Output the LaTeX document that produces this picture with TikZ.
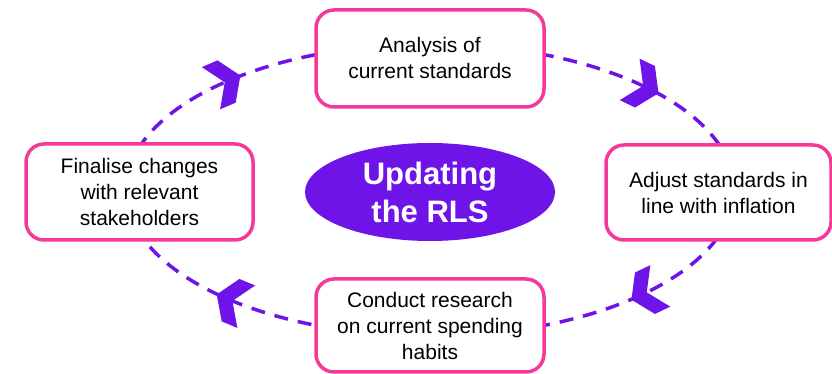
\documentclass[tikz,border=0pt]{standalone}
\usepackage{fontspec}
\setmainfont{Liberation Sans}
\usepackage{xcolor}
\usepackage{tikz}
\usetikzlibrary{shapes.geometric}

\definecolor{rlspink}{HTML}{F7389B}
\definecolor{rlspurple}{HTML}{6F14E8}

\tikzset{
	stagebox/.style={draw=rlspink, line width=3.5pt, fill=white, rounded corners=18pt,
		align=center, inner sep=0pt, font=\fontsize{21}{26}\selectfont},
	cycleline/.style={draw=rlspurple, line width=3.5pt, dash pattern=on 14pt off 10pt}
}

\begin{document}
\begin{tikzpicture}[x=1pt,y=1pt]
	\useasboundingbox (0,0) rectangle (832,374);
	% dashed cycle and its chevrons
	\draw[cycleline] (430,184) ellipse [x radius=304, y radius=146];
	\foreach \a in {132,45,-45,-131}
		\fill[rlspurple, shift={({430+304*cos(\a)},{184+146*sin(\a)})},
			rotate={atan2(-146*cos(\a),304*sin(\a))}]
			(15,0) -- (0,23) -- (-17,23) -- (-2,0) -- (-17,-23) -- (0,-23) -- cycle;
	% stages
	\node[stagebox, minimum width=228pt, minimum height=97pt] (analysis) at (430,315.5)
		{Analysis of\\current standards};
	\node[stagebox, minimum width=225pt, minimum height=95pt] (adjust) at (718.5,181.5)
		{Adjust standards in\\line with inflation};
	\node[stagebox, minimum width=228pt, minimum height=93pt] (research) at (430,48.5)
		{Conduct research\\on current spending\\habits};
	\node[stagebox, minimum width=227pt, minimum height=96pt] (finalise) at (139.5,182)
		{Finalise changes\\with relevant\\stakeholders};
	% centre
	\node[ellipse, fill=rlspurple, minimum width=250pt, minimum height=98pt, inner sep=0pt,
		align=center, text=white, font=\bfseries\fontsize{31}{38}\selectfont] (rls) at (430,182)
		{Updating\\the RLS};
\end{tikzpicture}
\end{document}
